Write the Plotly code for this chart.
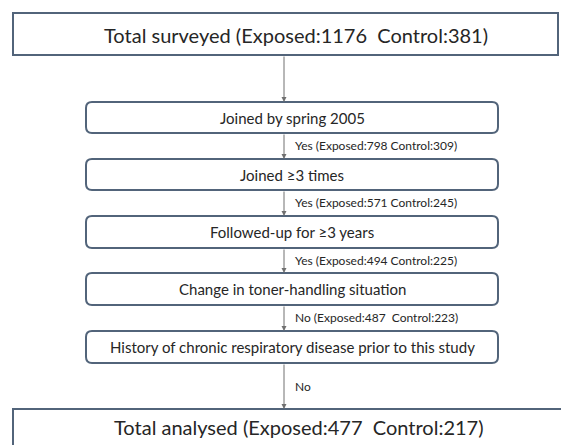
import plotly.graph_objects as go

# ---- data ----
top_label = "Total surveyed"
top_exposed, top_control = 1176, 381
steps = [
    "Joined by spring 2005",
    "Joined ≥3 times",
    "Followed-up for ≥3 years",
    "Change in toner-handling situation",
    "History of chronic respiratory disease prior to this study",
]
answers = ["Yes", "Yes", "Yes", "No", "No"]
exposed_after = [798, 571, 494, 487, None]
control_after = [309, 245, 225, 223, None]
final_label = "Total analysed"
final_exposed, final_control = 477, 217

# ---- layout geometry (page pixel coordinates) ----
W, H = 569, 445
OFF = 8  # page body margin
box_col = "#52647a"
arrow_col = "#707070"
txt_col = "#262626"
FONT = "Lato"

step_tops = [102, 159, 216, 273, 331]
step_bots = [133, 190, 248, 305, 363]
sx0, sx1 = 86, 498
cx = 284
text_cx = 292

fig = go.Figure()
fig.add_trace(go.Scatter(x=[OFF, W], y=[OFF, H], mode="markers",
                         marker=dict(opacity=0), hoverinfo="skip", showlegend=False))

shapes = []
ann = []

def rrect(x0, y0, x1, y1, r=6):
    return (f"M{x0+r},{y0} L{x1-r},{y0} Q{x1},{y0} {x1},{y0+r} "
            f"L{x1},{y1-r} Q{x1},{y1} {x1-r},{y1} L{x0+r},{y1} "
            f"Q{x0},{y1} {x0},{y1-r} L{x0},{y0+r} Q{x0},{y0} {x0+r},{y0} Z")

# top box
shapes.append(dict(type="rect", x0=13, y0=13, x1=558, y1=55,
                   line=dict(color=box_col, width=2), fillcolor="white", layer="below"))
ann.append(dict(x=296, y=35, text=f"{top_label} (Exposed:{top_exposed}&nbsp;&nbsp;Control:{top_control})",
                showarrow=False, font=dict(size=20, color=txt_col, family=FONT)))

# bottom box (runs off the right edge: draw only left/top/bottom sides)
shapes.append(dict(type="path", path="M640,409 L13,409 L13,480 L640,480",
                   line=dict(color=box_col, width=2), fillcolor="rgba(0,0,0,0)", layer="below"))
ann.append(dict(x=299, y=427, text=f"{final_label} (Exposed:{final_exposed}&nbsp;&nbsp;Control:{final_control})",
                showarrow=False, font=dict(size=20, color=txt_col, family=FONT)))

# step boxes
for i, s in enumerate(steps):
    y0, y1 = step_tops[i], step_bots[i]
    shapes.append(dict(type="path", path=rrect(sx0, y0, sx1, y1),
                       line=dict(color=box_col, width=2), fillcolor="white", layer="below"))
    ann.append(dict(x=text_cx, y=(y0 + y1) / 2, text=s, showarrow=False,
                    font=dict(size=15, color=txt_col, family=FONT)))

# arrows
starts = [55] + step_bots
ends = step_tops + [409]
for a, b in zip(starts, ends):
    ann.append(dict(x=cx, y=b, ax=cx, ay=a, xref="x", yref="y", axref="x", ayref="y",
                    showarrow=True, arrowhead=2, arrowsize=1, arrowwidth=1,
                    arrowcolor=arrow_col, text=""))

# branch labels
for i in range(len(steps)):
    if exposed_after[i] is not None:
        sp = "&nbsp;&nbsp;" if answers[i] == "No" else " "
        lbl = f"{answers[i]} (Exposed:{exposed_after[i]}{sp}Control:{control_after[i]})"
        ly = step_bots[i] + 12
    else:
        lbl = answers[i]
        ly = (step_bots[i] + 409) / 2
    ann.append(dict(x=293, y=ly, text=lbl, showarrow=False, xanchor="left",
                    font=dict(size=12, color=txt_col, family=FONT)))

fig.update_layout(
    width=W, height=H,
    margin=dict(l=0, r=0, t=0, b=0),
    paper_bgcolor="white", plot_bgcolor="white",
    xaxis=dict(range=[OFF, W + OFF], visible=False, fixedrange=True),
    yaxis=dict(range=[H + OFF, OFF], visible=False, fixedrange=True),
    shapes=shapes, annotations=ann, showlegend=False,
)
fig.write_html("out.html")
